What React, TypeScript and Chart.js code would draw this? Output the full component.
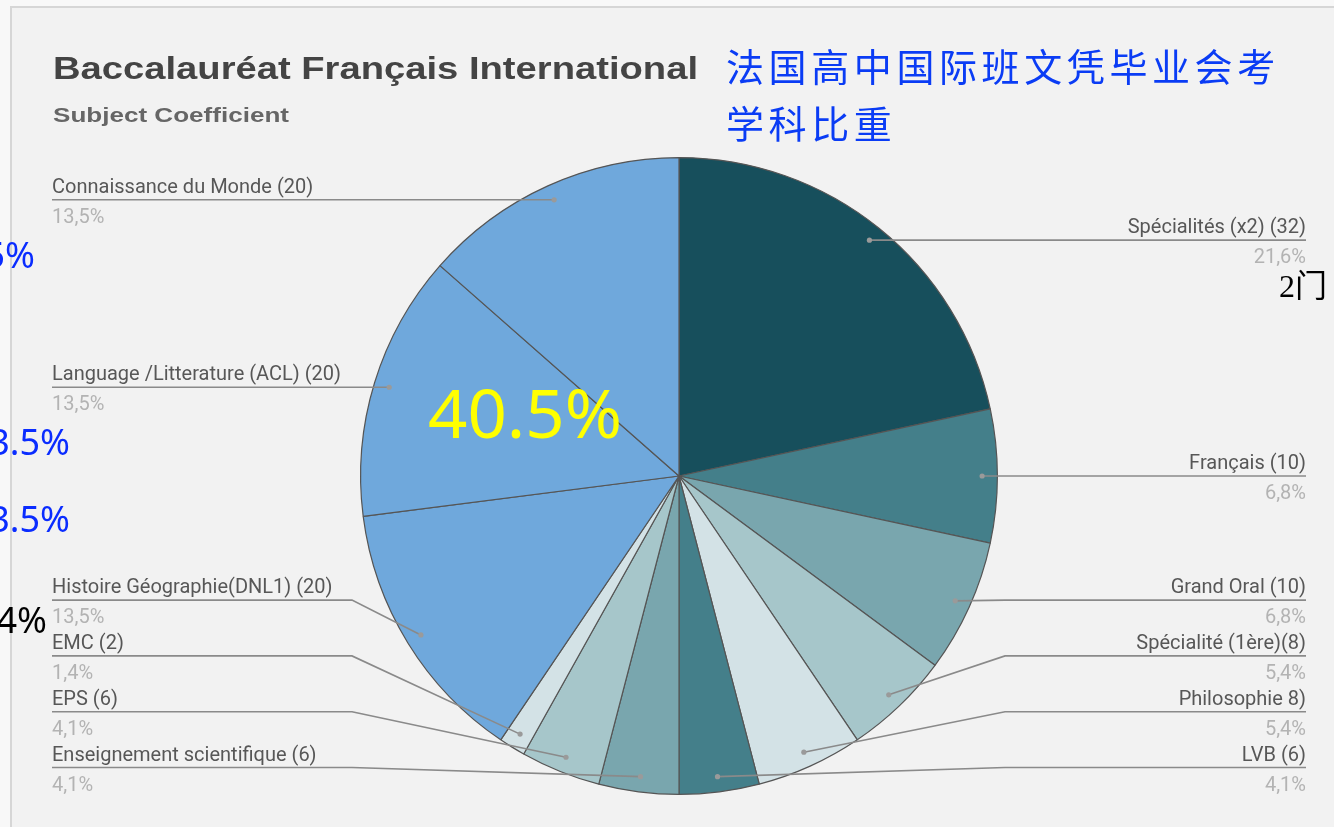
import React, { useEffect, useRef } from 'react';
import { Chart, registerables } from 'chart.js';

Chart.register(...registerables);

// ---------- DATA ----------
const categories = [
  'Spécialités (x2) (32)',
  'Français (10)',
  'Grand Oral (10)',
  'Spécialité (1ère)(8)',
  'Philosophie 8)',
  'LVB (6)',
  'Enseignement scientifique (6)',
  'EPS (6)',
  'EMC (2)',
  'Histoire Géographie(DNL1) (20)',
  'Language /Litterature (ACL) (20)',
  'Connaissance du Monde (20)',
];
const coefficients = [32, 10, 10, 8, 8, 6, 6, 6, 2, 20, 20, 20];
const sliceColors = [
  '#174f5c', '#447f8a', '#79a6ae', '#a6c6ca', '#d3e2e6',
  '#447f8a', '#79a6ae', '#a6c6ca', '#d3e2e6',
  '#6fa8dc', '#6fa8dc', '#6fa8dc',
];
const titleText = 'Baccalauréat Français International';
const subtitleText = 'Subject Coefficient';
const chineseTitleLines = ['法国高中国际班文凭毕业会考', '学科比重'];
const bigNoteText = '40.5%';
const leftNoteTexts = ['13.5%', '13.5%', '13.5%', '1.4%'];
const sideNoteText = '2门';

// ---------- LAYOUT / STYLE ----------
const W = 1334;
const H = 827;
const LAYOUT = {
  padLeft: 359, padRight: 335, padTop: 157, padBottom: 32,
  frameX: 10, frameY: 6,
  labelLeftX: 52, labelRightX: 1306,
  elbowLeftX: 352, elbowRightX: 1005,
  labelMaxY: 767.5, labelGap: 55.8,
  dotRadiusFrac: 0.952,
  title: { x: 53, y: 79, w: 645 },
  subtitle: { x: 53, y: 122, w: 236 },
  cn: { x: 726, y1: 67, y2: 124 },
  bigNote: { x: 428, y: 438, w: 194 },
  leftNotes: [
    { right: 35, y: 268, color: '#0a2cff' },
    { right: 70, y: 455, color: '#0a2cff' },
    { right: 70, y: 532, color: '#0a2cff' },
    { right: 47, y: 633, color: '#000000' },
  ],
  sideNote: { x: 1279, y: 297 },
};

function fmtPct(v: number, total: number) {
  return (v / total * 100).toFixed(1).replace('.', ',') + '%';
}

function drawText(
  ctx: CanvasRenderingContext2D, text: string, x: number, y: number,
  font: string, color: string, align: CanvasTextAlign = 'left', fitWidth?: number,
) {
  ctx.save();
  ctx.font = font;
  ctx.fillStyle = color;
  ctx.textBaseline = 'alphabetic';
  if (fitWidth) {
    const w = ctx.measureText(text).width || 1;
    ctx.translate(x, y);
    ctx.scale(fitWidth / w, 1);
    ctx.textAlign = 'left';
    ctx.fillText(text, 0, 0);
  } else {
    ctx.textAlign = align;
    ctx.fillText(text, x, y);
  }
  ctx.restore();
}

const decorPlugin = {
  id: 'decor',
  beforeDraw(chart: any) {
    const ctx: CanvasRenderingContext2D = chart.ctx;
    ctx.save();
    ctx.fillStyle = '#f8f8f8';
    ctx.fillRect(0, 0, W, H);
    ctx.fillStyle = '#f2f2f2';
    ctx.fillRect(LAYOUT.frameX, LAYOUT.frameY, W, H);
    ctx.strokeStyle = '#d6d6d6';
    ctx.lineWidth = 2;
    ctx.beginPath();
    ctx.moveTo(LAYOUT.frameX + 1, H);
    ctx.lineTo(LAYOUT.frameX + 1, LAYOUT.frameY + 1);
    ctx.lineTo(W, LAYOUT.frameY + 1);
    ctx.stroke();
    ctx.restore();

    drawText(ctx, titleText, LAYOUT.title.x, LAYOUT.title.y,
      'bold 31px "Liberation Sans", Arial, sans-serif', '#444444', 'left', LAYOUT.title.w);
    drawText(ctx, subtitleText, LAYOUT.subtitle.x, LAYOUT.subtitle.y,
      'bold 21px "Liberation Sans", Arial, sans-serif', '#666666', 'left', LAYOUT.subtitle.w);
  },
  afterDatasetsDraw(chart: any) {
    const ctx: CanvasRenderingContext2D = chart.ctx;
    const meta = chart.getDatasetMeta(0);
    const data: number[] = chart.data.datasets[0].data;
    const total = data.reduce((a, b) => a + b, 0);

    type Item = { i: number; dx: number; dy: number; right: boolean; ly: number };
    const items: Item[] = meta.data.map((arc: any, i: number) => {
      const p = arc.getProps(['x', 'y', 'startAngle', 'endAngle', 'outerRadius'], true);
      const mid = (p.startAngle + p.endAngle) / 2;
      const r = p.outerRadius * LAYOUT.dotRadiusFrac;
      const dx = p.x + Math.cos(mid) * r;
      const dy = p.y + Math.sin(mid) * r;
      return { i, dx, dy, right: Math.cos(mid) > 0, ly: dy };
    });

    // resolve label vertical positions per side (push upward from bottom limit)
    [true, false].forEach((side) => {
      const s = items.filter((it) => it.right === side).sort((a, b) => a.dy - b.dy);
      let prev = LAYOUT.labelMaxY + LAYOUT.labelGap;
      for (let k = s.length - 1; k >= 0; k--) {
        s[k].ly = Math.min(s[k].dy, prev - LAYOUT.labelGap);
        prev = s[k].ly;
      }
    });

    ctx.save();
    items.forEach((it) => {
      const endX = it.right ? LAYOUT.labelRightX : LAYOUT.labelLeftX;
      const elbowX = it.right ? LAYOUT.elbowRightX : LAYOUT.elbowLeftX;
      ctx.strokeStyle = '#8a8a8a';
      ctx.lineWidth = 1.6;
      ctx.beginPath();
      ctx.moveTo(it.dx, it.dy);
      if (Math.abs(it.ly - it.dy) > 0.5) {
        ctx.lineTo(elbowX, it.ly);
      }
      ctx.lineTo(endX, it.ly);
      ctx.stroke();
      ctx.fillStyle = '#9a9a9a';
      ctx.beginPath();
      ctx.arc(it.dx, it.dy, 2.6, 0, Math.PI * 2);
      ctx.fill();

      const align: CanvasTextAlign = it.right ? 'right' : 'left';
      drawText(ctx, chart.data.labels[it.i], endX, it.ly - 7,
        '20px Roboto, "Noto Sans", sans-serif', '#575757', align);
      drawText(ctx, fmtPct(data[it.i], total), endX, it.ly + 23,
        '20px Roboto, "Noto Sans", sans-serif', '#b3b3b3', align);
    });
    ctx.restore();

    // annotations
    drawText(ctx, bigNoteText, LAYOUT.bigNote.x, LAYOUT.bigNote.y,
      '68px "Noto Sans", sans-serif', '#ffff00', 'left', LAYOUT.bigNote.w);

    leftNoteTexts.forEach((t, k) => {
      const n = LAYOUT.leftNotes[k];
      drawText(ctx, t, n.right, n.y, '36px "Noto Sans", sans-serif', n.color, 'right');
    });

    drawText(ctx, sideNoteText, LAYOUT.sideNote.x, LAYOUT.sideNote.y,
      '32px "Liberation Serif", "Noto Sans CJK SC", serif', '#000000', 'left');

    ctx.save();
    ctx.font = '38px "Noto Sans CJK SC", sans-serif';
    (ctx as any).letterSpacing = '4.6px';
    ctx.fillStyle = '#0a3cf5';
    ctx.textAlign = 'left';
    ctx.textBaseline = 'middle';
    ctx.fillText(chineseTitleLines[0], LAYOUT.cn.x, LAYOUT.cn.y1);
    ctx.fillText(chineseTitleLines[1], LAYOUT.cn.x, LAYOUT.cn.y2);
    ctx.restore();
  },
};

export default function App() {
  const canvasRef = useRef<HTMLCanvasElement | null>(null);

  useEffect(() => {
    if (!canvasRef.current) return;
    const chart = new Chart(canvasRef.current, {
      type: 'pie',
      data: {
        labels: categories,
        datasets: [{
          data: coefficients,
          backgroundColor: sliceColors,
          borderColor: '#555555',
          borderWidth: 1.2,
        }],
      },
      options: {
        responsive: false,
        animation: false,
        layout: {
          padding: {
            left: LAYOUT.padLeft, right: LAYOUT.padRight,
            top: LAYOUT.padTop, bottom: LAYOUT.padBottom,
          },
        },
        plugins: {
          legend: { display: false },
          tooltip: { enabled: false },
        },
      },
      plugins: [decorPlugin],
    });
    let alive = true;
    (document as any).fonts?.ready?.then(() => { if (alive) chart.draw(); });
    return () => { alive = false; chart.destroy(); };
  }, []);

  return (
    <div style={{ position: 'absolute', left: 0, top: 0, width: W, height: H }}>
      <canvas ref={canvasRef} width={W} height={H} style={{ display: 'block' }} />
    </div>
  );
}
